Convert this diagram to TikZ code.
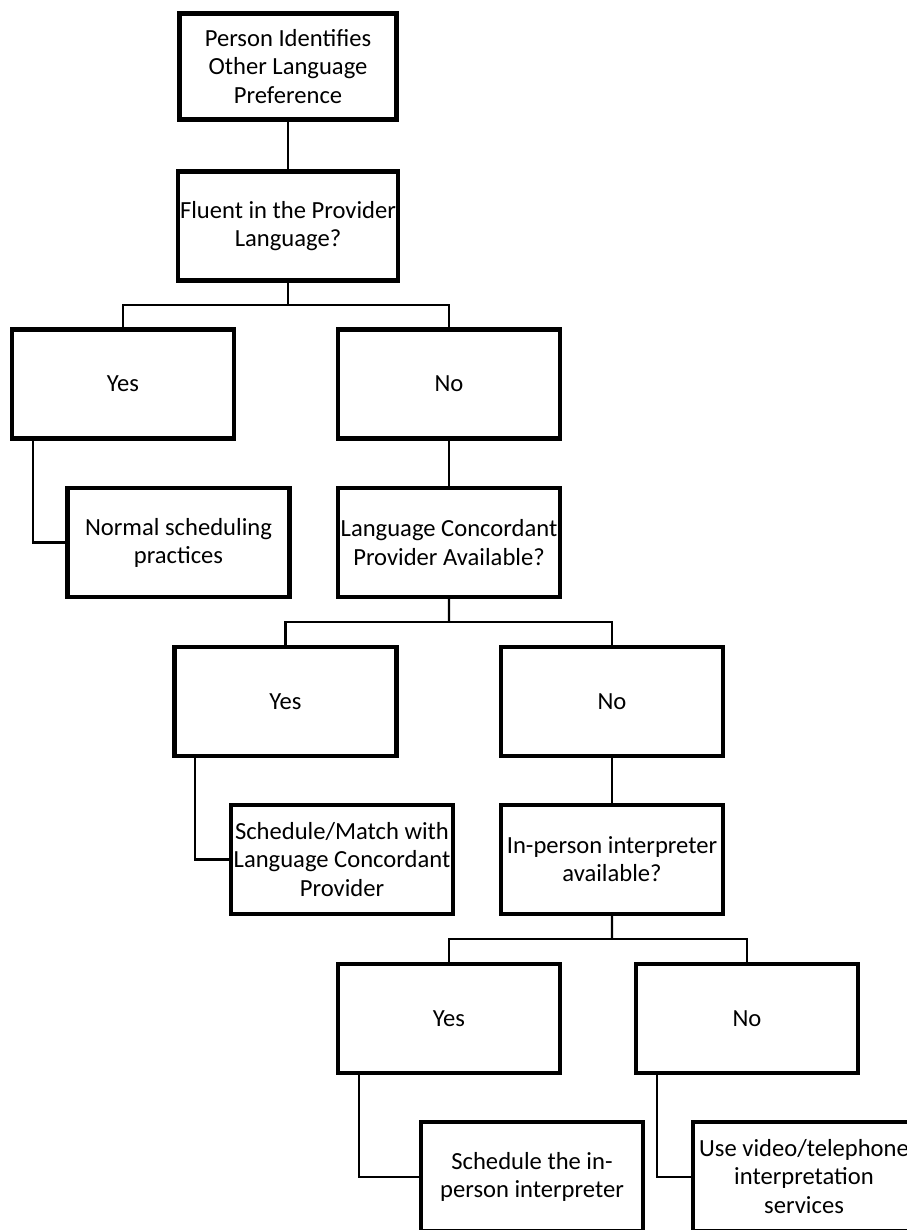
\documentclass[tikz,border=0pt]{standalone}
\usepackage{fontspec}
\setmainfont{Carlito}
\usepackage{tikz}
\usetikzlibrary{
	positioning,
	calc
}

\tikzset{
	box/.style={draw,line width=2.3pt,minimum width=4.44cm,minimum height=2.18cm,
		align=center,inner sep=1pt,font=\fontsize{14}{16}\selectfont},
	link/.style={line width=1.15pt}
}

\begin{document}
\begin{tikzpicture}
				
				\useasboundingbox (0,0) rectangle (18.14,-24.6);
				
				% First question
				\node[box,minimum width=4.34cm,minimum height=2.12cm] (start) at (5.76,-1.33) {Person Identifies\\Other Language\\Preference};
				\node[box,minimum width=4.34cm] (fluent) at (5.76,-4.52) {Fluent in the Provider\\Language?};
				
				\node[box] (yes1) at (2.46,-7.68) {Yes};
				\node[box] (no1) at (8.98,-7.68) {No};
				\node[box] (normal) at (3.57,-10.85) {Normal scheduling\\practices};
				
				% Second question
				\node[box] (concord) at (8.98,-10.85) {Language Concordant\\Provider Available?};
				
				\node[box] (yes2) at (5.71,-14.03) {Yes};
				\node[box] (no2) at (12.24,-14.03) {No};
				\node[box] (match) at (6.84,-17.19) {Schedule/Match with\\Language Concordant\\Provider};
				
				% Third question
				\node[box] (inperson) at (12.24,-17.19) {In-person interpreter\\available?};
				
				\node[box] (yes3) at (8.98,-20.37) {Yes};
				\node[box] (no3) at (14.94,-20.37) {No};
				\node[box] (interp) at (10.64,-23.53) {Schedule the in-\\person interpreter};
				\node[box] (video) at (16.08,-23.53) {Use video/telephone\\interpretation\\services};
				
				% Links
				\draw[link] (start.south) -- (fluent.north);
				
				\coordinate (b1) at ($(fluent.south)!0.5!(fluent.south |- yes1.north)$);
				\draw[link] (fluent.south) -- (b1);
				\draw[link] (b1) -| (yes1.north);
				\draw[link] (b1) -| (no1.north);
				\draw[link] ($(yes1.south west)+(0.46,0)$) |- (normal.west);
				\draw[link] (no1.south) -- (concord.north);
				
				\coordinate (b2) at ($(concord.south)!0.5!(concord.south |- yes2.north)$);
				\draw[link] (concord.south) -- (b2);
				\draw[link] (b2) -| (yes2.north);
				\draw[link] (b2) -| (no2.north);
				\draw[link] ($(yes2.south west)+(0.46,0)$) |- (match.west);
				\draw[link] (no2.south) -- (inperson.north);
				
				\coordinate (b3) at ($(inperson.south)!0.5!(inperson.south |- yes3.north)$);
				\draw[link] (inperson.south) -- (b3);
				\draw[link] (b3) -| (yes3.north);
				\draw[link] (b3) -| (no3.north);
				\draw[link] ($(yes3.south west)+(0.46,0)$) |- (interp.west);
				\draw[link] ($(no3.south west)+(0.46,0)$) |- (video.west);
				
			\end{tikzpicture}
\end{document}
